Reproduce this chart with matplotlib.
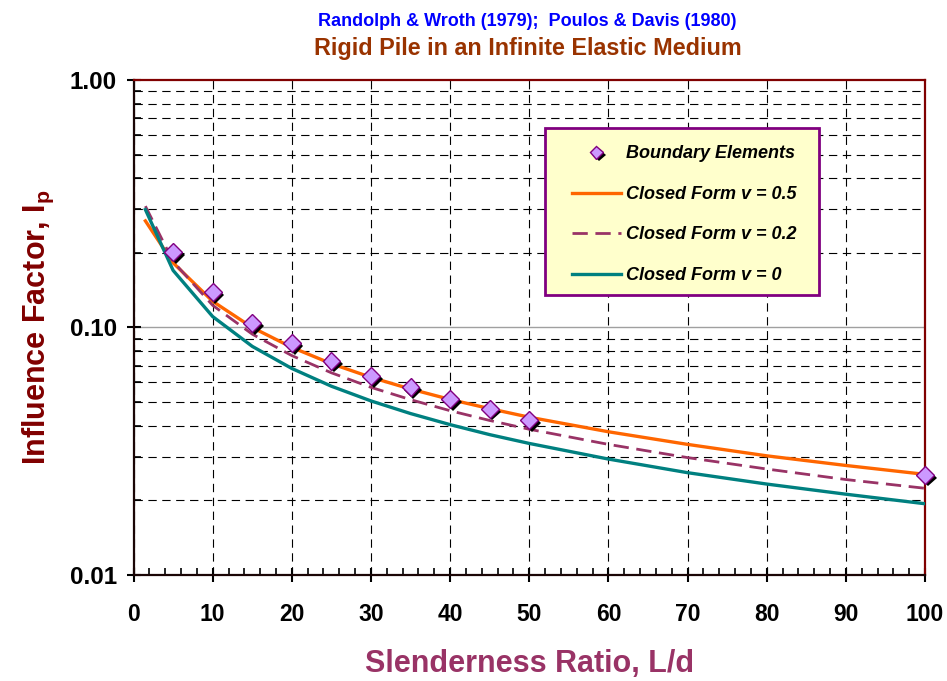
import matplotlib
matplotlib.use("Agg")
import matplotlib.pyplot as plt
import matplotlib.patheffects as pe
from matplotlib.patches import Rectangle
from matplotlib.ticker import MultipleLocator, LogLocator, FuncFormatter, NullFormatter

plt.rcParams['font.family'] = ['Liberation Sans', 'DejaVu Sans']
plt.rcParams['mathtext.fontset'] = 'custom'
plt.rcParams['mathtext.rm'] = 'Liberation Sans'
plt.rcParams['mathtext.bf'] = 'Liberation Sans:bold'
plt.rcParams['lines.scale_dashes'] = False

# Boundary element results
be_ld = [5, 10, 15, 20, 25, 30, 35, 40, 45, 50, 100]
be_ip = [0.202, 0.139, 0.104, 0.0866, 0.0733, 0.0637, 0.0575, 0.0514, 0.0469, 0.0423, 0.0254]

# Closed-form curves
cf_ld = [1.5, 5, 10, 15, 20, 25, 30, 35, 40, 45, 50, 60, 70, 80, 90, 100]
ip_v05 = [0.2696, 0.1825, 0.1276, 0.1000, 0.0831, 0.0714, 0.0629, 0.0564,
          0.0512, 0.0470, 0.0434, 0.0379, 0.0337, 0.0303, 0.0277, 0.0255]
ip_v02 = [0.3093, 0.1848, 0.1229, 0.0940, 0.0770, 0.0656, 0.0573, 0.0511,
          0.0461, 0.0421, 0.0388, 0.0337, 0.0298, 0.0268, 0.0243, 0.0224]
ip_v00 = [0.2995, 0.1701, 0.1107, 0.0839, 0.0683, 0.0579, 0.0505, 0.0449,
          0.0405, 0.0369, 0.0340, 0.0294, 0.0259, 0.0233, 0.0212, 0.0194]

fig = plt.figure(figsize=(9.47, 6.81), dpi=100)
ax = fig.add_axes([0.141, 0.1557, 0.8358, 0.7268])

ax.set_yscale('log')
ax.set_xlim(0, 100)
ax.set_ylim(0.01, 1.0)

# grid
dash = (0, (6, 4))
ax.grid(which='major', axis='x', color='black', ls=dash, lw=0.8)
ax.grid(which='minor', axis='y', color='black', ls=dash, lw=0.8)
ax.grid(which='major', axis='y', visible=False)
ax.axhline(0.1, color='#a0a0a0', lw=1.0, zorder=1)

ax.plot(cf_ld, ip_v05, color='#FF6600', lw=2.4, label='Closed Form v = 0.5', zorder=3)
ax.plot(cf_ld, ip_v02, color='#993366', lw=2.0, dashes=(11, 5.5), label='Closed Form v = 0.2', zorder=3)
ax.plot(cf_ld, ip_v00, color='#008080', lw=2.4, label='Closed Form v = 0', zorder=3)
ax.plot(be_ld, be_ip, ls='none', marker='D', ms=9, mfc='#CC99FF', mec='#800080', mew=1.0,
        label='Boundary Elements', zorder=5, clip_on=False,
        path_effects=[pe.SimplePatchShadow(offset=(2, -2), shadow_rgbFace='black', alpha=1.0), pe.Normal()])

# ticks
ax.xaxis.set_major_locator(MultipleLocator(10))
ax.xaxis.set_minor_locator(MultipleLocator(2))
ax.yaxis.set_major_locator(LogLocator(base=10))
ax.yaxis.set_minor_locator(LogLocator(base=10, subs=range(2, 10)))
ax.yaxis.set_major_formatter(FuncFormatter(lambda v, p: f'{v:.2f}'))
ax.yaxis.set_minor_formatter(NullFormatter())
ax.tick_params(which='major', direction='inout', length=10, width=1.5, color='black')
ax.tick_params(which='minor', direction='in', length=5, width=1.2, color='black')
ax.tick_params(axis='x', which='major', pad=15, labelsize=16.5)
ax.tick_params(axis='y', which='major', pad=7, labelsize=17.5)
for lab in ax.get_xticklabels() + ax.get_yticklabels():
    lab.set_fontweight('bold')

for side in ['left', 'bottom']:
    ax.spines[side].set_color('#1a0505')
    ax.spines[side].set_linewidth(1.6)
for side in ['top', 'right']:
    ax.spines[side].set_color('#800000')
    ax.spines[side].set_linewidth(1.6)

ax.set_xlabel('Slenderness Ratio, L/d', fontsize=22, fontweight='bold', color='#993366', labelpad=17)
ax.set_ylabel(r'Influence Factor, $\mathbf{I_p}$', fontsize=22, fontweight='bold', color='#800000', labelpad=10)

fig.text(0.557, 0.969, 'Randolph & Wroth (1979);  Poulos & Davis (1980)', ha='center', va='center',
         fontsize=13, fontweight='bold', color='#0000FF')
fig.text(0.557, 0.929, 'Rigid Pile in an Infinite Elastic Medium', ha='center', va='center',
         fontsize=16.8, fontweight='bold', color='#993300')

# legend box drawn separately so padding can match
ax.add_patch(Rectangle((0.52, 0.566), 0.346, 0.337, transform=ax.transAxes,
                       facecolor='#FFFFCC', edgecolor='#800080', lw=2, zorder=9, clip_on=False))

handles, labels = ax.get_legend_handles_labels()
order = [3, 0, 1, 2]
leg = ax.legend([handles[i] for i in order], [labels[i] for i in order],
                loc='upper left', bbox_to_anchor=(0.5426, 0.886), frameon=False,
                prop={'weight': 'bold', 'style': 'italic', 'size': 13},
                labelspacing=1.30, handlelength=2.7, borderpad=0.5, markerscale=0.72,
                handletextpad=0.3, borderaxespad=0)
leg.set_zorder(10)

fig.savefig('out.png', dpi=100, facecolor='white')
